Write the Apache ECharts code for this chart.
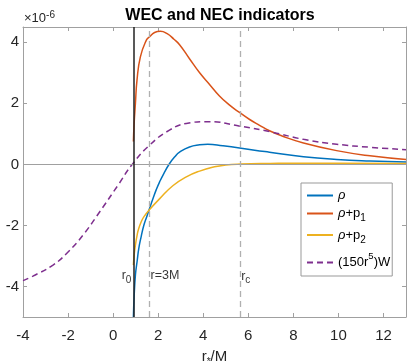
<!DOCTYPE html>
<html>
<head>
<meta charset="utf-8">
<script src="https://cdn.jsdelivr.net/npm/echarts@6/dist/echarts.min.js"></script>
<style>
  html, body { margin: 0; padding: 0; background: #fff; }
  #chart { width: 408px; height: 364px; }
</style>
</head>
<body>
<div id="chart"></div>
<script>
// values (y in units of 1e-6)
const rhoX = [0.90, 0.93, 0.99, 1.07, 1.14, 1.25, 1.37, 1.50, 1.62, 1.77, 1.92, 2.06, 2.25, 2.50, 2.75, 2.95, 3.39, 3.84, 4.20, 4.87, 5.61, 6.50, 6.94, 8.45, 9.92, 11.4, 13.0];
const rhoY = [-5.0, -4.38, -3.62, -3.15, -2.75, -2.35, -1.98, -1.70, -1.44, -1.12, -0.82, -0.58, -0.30, 0.02, 0.26, 0.40, 0.57, 0.64, 0.66, 0.61, 0.54, 0.44, 0.40, 0.25, 0.16, 0.11, 0.08];

const p1X = [0.90, 0.93, 0.99, 1.06, 1.21, 1.47, 1.62, 1.84, 2.10, 2.40, 2.70, 2.95, 3.39, 3.84, 4.28, 4.72, 5.17, 5.61, 6.06, 6.50, 6.94, 7.50, 8.45, 9.92, 11.4, 13.0];
const p1Y = [0.75, 1.30, 2.00, 2.76, 3.52, 4.06, 4.18, 4.32, 4.36, 4.28, 4.10, 3.92, 3.46, 3.00, 2.62, 2.24, 1.94, 1.70, 1.47, 1.28, 1.10, 0.93, 0.70, 0.45, 0.28, 0.16];

const p2X = [0.90, 0.93, 0.99, 1.07, 1.14, 1.25, 1.37, 1.62, 2.06, 2.65, 3.25, 3.84, 4.50, 5.00, 5.64, 6.97, 8.45, 10.0, 13.0];
const p2Y = [-3.30, -3.00, -2.64, -2.30, -2.09, -1.88, -1.71, -1.48, -1.13, -0.70, -0.41, -0.22, -0.08, -0.02, 0.01, 0.03, 0.04, 0.04, 0.03];

const wX = [-4.0, -3.56, -2.67, -2.0, -1.34, -0.6, 0.21, 0.85, 1.62, 2.5, 3.25, 4.2, 5.64, 6.97, 8.45, 9.92, 11.4, 13.0];
const wY = [-3.81, -3.66, -3.30, -2.87, -2.32, -1.56, -0.69, 0.0, 0.63, 1.12, 1.34, 1.40, 1.25, 1.07, 0.82, 0.66, 0.56, 0.48];

const xTicks = [-4, -2, 0, 2, 4, 6, 8, 10, 12];
const yTicks = [-4, -2, 0, 2, 4];

const r0 = 0.9;
const rLines = [1.62, 5.64];

const annX = [0.9, 1.62, 5.64];
const annY = [-3.65, -3.65, -3.68];
const annText = ['{m|r}{sub|0}', '{m|r=3M}', '{m|r}{sub|c}'];

const legendText = {
  'rho': '{i|ρ}',
  'rho+p1': '{i|ρ}{t|+p}{sub|1}',
  'rho+p2': '{i|ρ}{t|+p}{sub|2}',
  'W': '{w|(150r}{sup|5}{w|)W}'
};

const zip = (xs, ys) => xs.map((x, i) => [x, ys[i]]);

const FONT = 'Liberation Sans, Arial, Helvetica, sans-serif';
const AXIS = '#a0a0a0';
const TEXT = '#262626';

const richSub = {
  m: { fontSize: 12.5, lineHeight: 18, color: '#000' },
  sub: { fontSize: 10, lineHeight: 9, verticalAlign: 'bottom', color: '#000' }
};

const baseLine = (name, data, color, extra) => Object.assign({
  name: name,
  type: 'line',
  data: data,
  symbol: 'none',
  smooth: 0.5,
  lineStyle: { color: color, width: 1.5 },
  itemStyle: { color: color },
  z: 3
}, extra);

const chart = echarts.init(document.getElementById('chart'));
chart.setOption({
  animation: false,
  textStyle: { fontFamily: FONT },
  title: {
    text: 'WEC and NEC indicators',
    left: 215,
    textAlign: 'center',
    top: 3,
    textStyle: { fontSize: 16, fontWeight: 'bold', color: '#000', fontFamily: FONT }
  },
  grid: { left: 23, right: 2, top: 27, bottom: 47, containLabel: false, outerBoundsMode: 'none' },
  legend: {
    left: 301,
    top: 183,
    orient: 'vertical',
    data: ['rho', 'rho+p1', 'rho+p2', 'W'],
    itemWidth: 26,
    itemHeight: 14,
    itemGap: 5,
    padding: [6, 2, 1, 5],
    borderColor: '#999',
    borderWidth: 1,
    borderRadius: 0,
    backgroundColor: '#fff',
    itemStyle: { opacity: 0, borderWidth: 0 },
    formatter: (n) => legendText[n],
    textStyle: {
      fontFamily: FONT,
      rich: {
        i: { fontSize: 13, fontStyle: 'italic', lineHeight: 20, color: '#000' },
        t: { fontSize: 13, lineHeight: 20, color: '#000' },
        sub: { fontSize: 10, lineHeight: 10, verticalAlign: 'bottom', color: '#000' },
        w: { fontSize: 13, lineHeight: 20, padding: [6, 0, 6, 0], color: '#000' },
        sup: { fontSize: 9.5, lineHeight: 20, padding: [0, 0, 12, 0], color: '#000' }
      }
    }
  },
  xAxis: [{
    type: 'value',
    min: -4,
    max: 13,
    position: 'bottom',
    name: '{m|r}{sub|*}{m|/M}',
    nameLocation: 'middle',
    nameGap: 30,
    nameTextStyle: {
      rich: {
        m: { fontSize: 15, color: TEXT, lineHeight: 20 },
        sub: { fontSize: 10, color: TEXT, lineHeight: 10, verticalAlign: 'bottom' }
      }
    },
    axisLine: { show: true, onZero: false, lineStyle: { color: AXIS, width: 1 } },
    axisTick: { show: true, inside: true, length: 4, lineStyle: { color: AXIS }, customValues: xTicks },
    axisLabel: { fontSize: 15, color: TEXT, margin: 11, customValues: xTicks },
    splitLine: { show: false }
  }, {
    type: 'value',
    min: -4,
    max: 13,
    position: 'top',
    axisLine: { show: true, onZero: false, lineStyle: { color: AXIS, width: 1 } },
    axisTick: { show: true, inside: true, length: 4, lineStyle: { color: AXIS }, customValues: xTicks },
    axisLabel: { show: false },
    splitLine: { show: false }
  }],
  yAxis: [{
    type: 'value',
    min: -5,
    max: 4.5,
    position: 'left',
    name: '{m|×10}{sup|-6}',
    nameLocation: 'end',
    nameGap: 1,
    nameTextStyle: {
      align: 'left',
      verticalAlign: 'bottom',
      padding: [0, 0, 0, 1],
      rich: {
        m: { fontSize: 13, color: TEXT, lineHeight: 16 },
        sup: { fontSize: 10, color: TEXT, lineHeight: 10, verticalAlign: 'top' }
      }
    },
    axisLine: { show: true, onZero: false, lineStyle: { color: AXIS, width: 1 } },
    axisTick: { show: true, inside: true, length: 4, lineStyle: { color: AXIS }, customValues: yTicks },
    axisLabel: { fontSize: 15, color: TEXT, margin: 4, customValues: yTicks },
    splitLine: { show: false }
  }, {
    type: 'value',
    min: -5,
    max: 4.5,
    position: 'right',
    axisLine: { show: true, onZero: false, lineStyle: { color: AXIS, width: 1 } },
    axisTick: { show: true, inside: true, length: 4, lineStyle: { color: AXIS }, customValues: yTicks },
    axisLabel: { show: false },
    splitLine: { show: false }
  }],
  series: [
    baseLine('rho', zip(rhoX, rhoY), '#0072BD'),
    baseLine('rho+p1', zip(p1X, p1Y), '#D95319'),
    baseLine('rho+p2', zip(p2X, p2Y), '#EDB120'),
    baseLine('W', zip(wX, wY), '#7E2F8E', {
      lineStyle: { color: '#7E2F8E', width: 1.5, type: [6, 4] },
      markLine: {
        silent: true,
        symbol: 'none',
        label: { show: false },
        animation: false,
        data: [
          { yAxis: 0, lineStyle: { color: '#a0a0a0', width: 1, type: 'solid' } },
          { xAxis: rLines[0], lineStyle: { color: '#b0b0b0', width: 1.3, type: [6, 4] } },
          { xAxis: rLines[1], lineStyle: { color: '#b0b0b0', width: 1.3, type: [6, 4] } },
          { xAxis: r0, lineStyle: { color: '#222', width: 1.5, type: 'solid' } }
        ]
      }
    }),
    {
      name: 'labels',
      type: 'scatter',
      symbolSize: 0,
      silent: true,
      data: annX.map((x, i) => ({
        value: [x, annY[i]],
        label: {
          show: true,
          position: i === 0 ? 'left' : 'right',
          distance: i === 0 ? 2 : 1,
          formatter: annText[i],
          rich: richSub
        }
      })),
      z: 5
    }
  ]
});
</script>
</body>
</html>
